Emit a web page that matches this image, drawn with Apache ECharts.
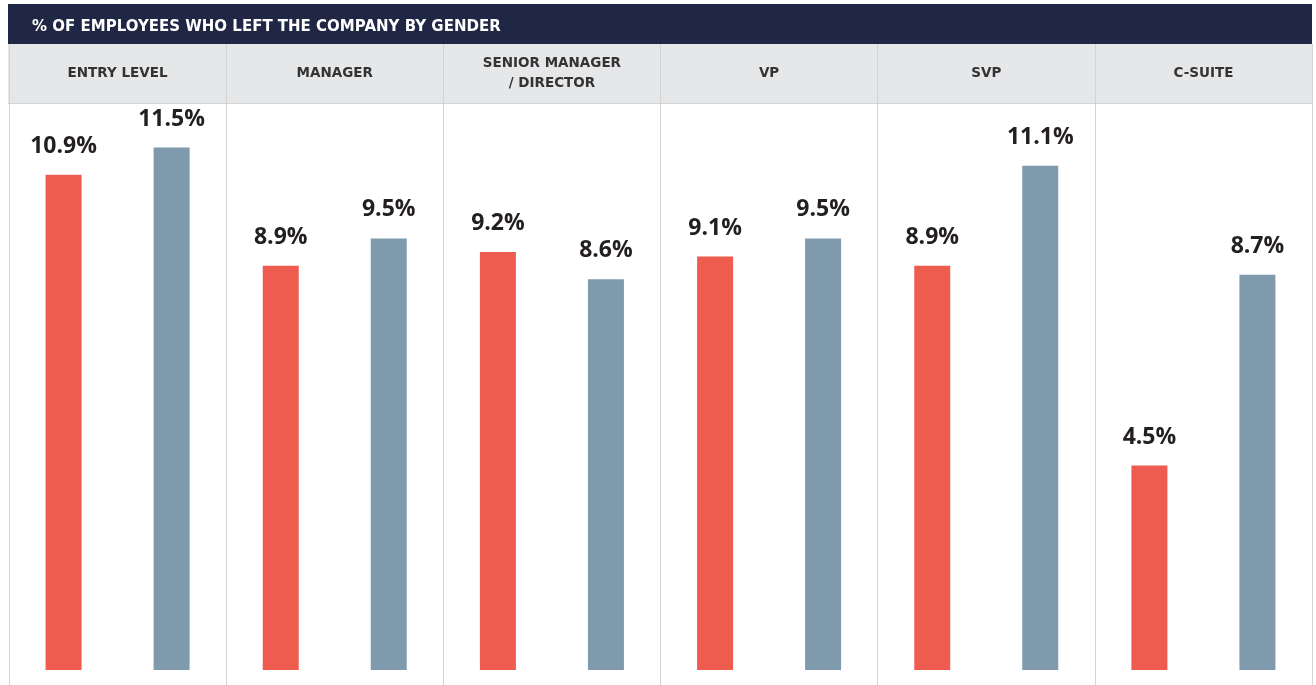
<!DOCTYPE html>
<html>
<head>
<meta charset="utf-8">
<script src="https://cdn.jsdelivr.net/npm/echarts@6/dist/echarts.min.js"></script>
<style>
  html, body { margin: 0; padding: 0; background: #fff; }
  #main { width: 1316px; height: 685px; }
</style>
</head>
<body>
<div id="main"></div>
<script>
// data
const categories = ["ENTRY LEVEL", "MANAGER", "SENIOR MANAGER\n/ DIRECTOR", "VP", "SVP", "C-SUITE"];
const women = [10.9, 8.9, 9.2, 9.1, 8.9, 4.5];
const men = [11.5, 9.5, 8.6, 9.5, 11.1, 8.7];

const chartDom = document.getElementById("main");
const myChart = echarts.init(chartDom);

const labelStyle = {
  show: true,
  position: "top",
  distance: 17,
  fontFamily: "Open Sans",
  fontWeight: "bold",
  fontSize: 23,
  color: "#231F20",
  formatter: (p) => p.value.toFixed(1) + "%",
};

const option = {
  animation: false,
  title: {
    text: "% OF EMPLOYEES WHO LEFT THE COMPANY BY GENDER",
    left: 27,
    top: 15,
    textStyle: {
      color: "#fff",
      fontFamily: "DejaVu Sans",
      fontWeight: "bold",
      fontSize: 15,
    },
  },
  graphic: [
    // title bar
    { type: "rect", z: -10, shape: { x: 8, y: 4, width: 1304, height: 40 }, style: { fill: "#1F2744" } },
    // header band
    { type: "rect", z: -10, shape: { x: 8, y: 44, width: 1304, height: 59 }, style: { fill: "#E6E7E9" } },
    { type: "line", z: -9, shape: { x1: 8, y1: 103.5, x2: 1312, y2: 103.5 }, style: { stroke: "#D3D3D3", lineWidth: 1 } },
  ],
  grid: {
    left: 9,
    right: 4,
    top: 44,
    bottom: 0,
  },
  xAxis: {
    type: "category",
    position: "top",
    data: categories,
    z: 10,
    axisLine: { show: false },
    axisTick: { show: false },
    splitLine: { show: true, lineStyle: { color: "#D3D3D3", width: 1 } },
    axisLabel: {
      interval: 0,
      margin: -29,
      verticalAlign: "middle",
      fontFamily: "DejaVu Sans",
      fontWeight: "bold",
      fontSize: 13.5,
      lineHeight: 20,
      color: "#333",
    },
  },
  yAxis: {
    type: "value",
    show: false,
    min: -0.33,
    max: 13.78,
    splitLine: { show: false },
  },
  series: [
    {
      name: "Women",
      type: "bar",
      data: women,
      barWidth: 36,
      barGap: "200%",
      itemStyle: { color: "#EE5C4F" },
      label: labelStyle,
    },
    {
      name: "Men",
      type: "bar",
      data: men,
      barWidth: 36,
      itemStyle: { color: "#7F9AAD" },
      label: labelStyle,
    },
  ],
};
myChart.setOption(option);
</script>
</body>
</html>
